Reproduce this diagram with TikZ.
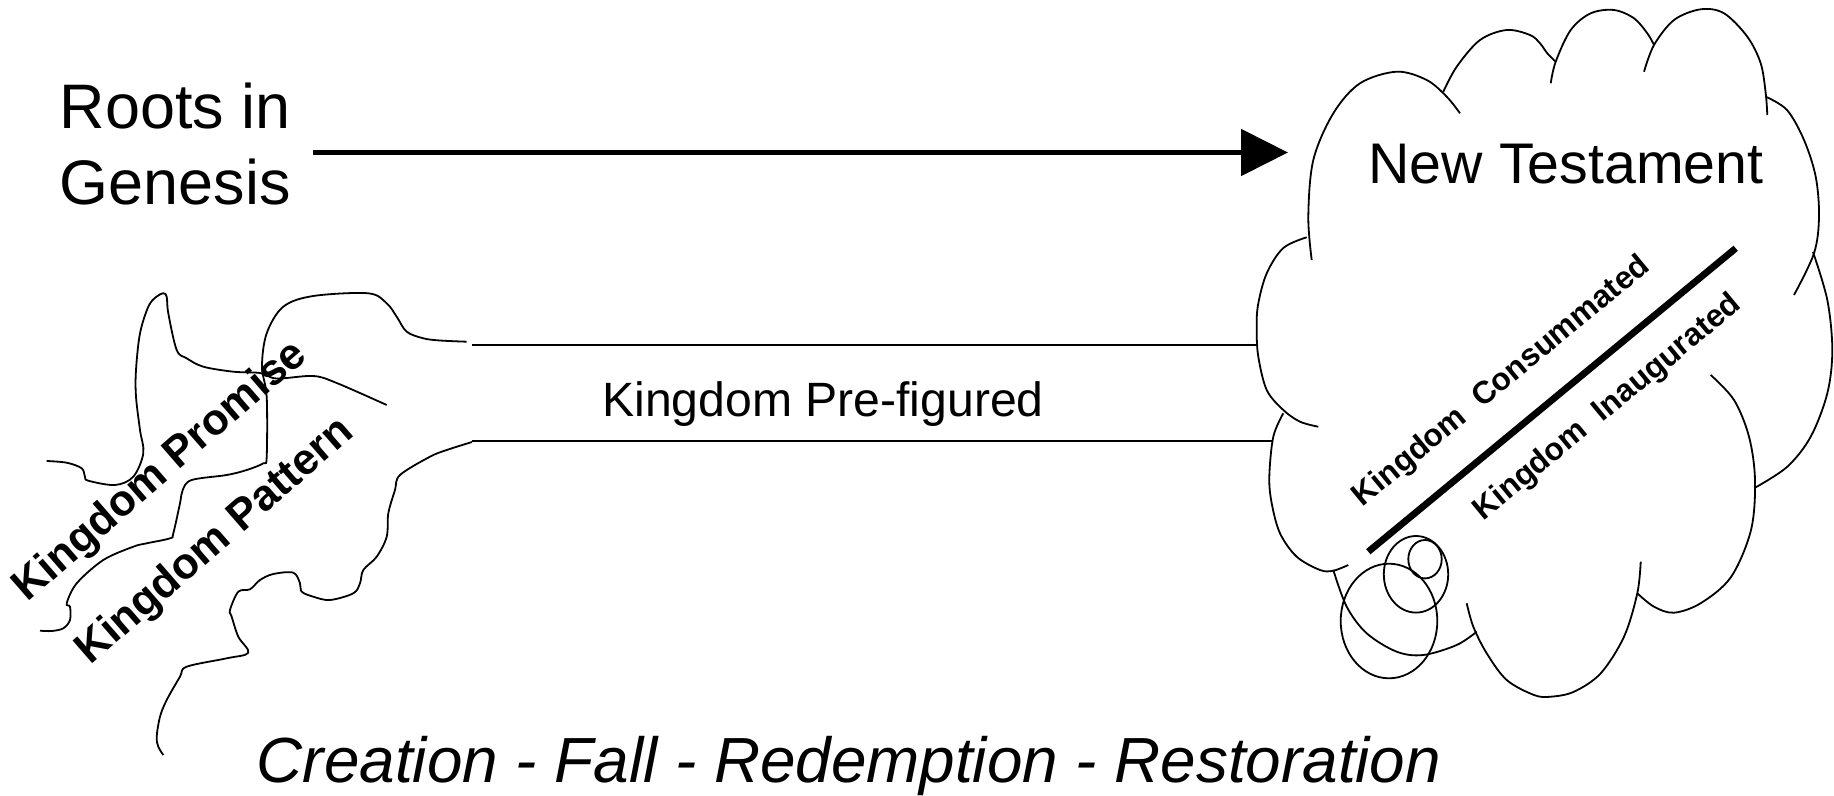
\documentclass[tikz,border=0pt]{standalone}
\usepackage{fontspec}
\setmainfont{Liberation Sans}
\usetikzlibrary{arrows.meta}

\begin{document}
\begin{tikzpicture}[x = {0.1mm}, y = {-0.1mm}, line width = 0.18mm,
    big/.style = {inner sep = 0pt, font = \fontsize{17.9}{21.8}\selectfont},
    title/.style = {inner sep = 0pt, font = \fontsize{16.3}{19}\selectfont},
    label/.style = {inner sep = 0pt, font = \fontsize{13.7}{16}\selectfont},
    rootlabel/.style = {inner sep = 0pt, rotate = 41, font = \fontsize{12.4}{14}\selectfont\bfseries},
    cloudlabel/.style = {inner sep = 0pt, rotate = 39.5, font = \fontsize{9}{10}\selectfont\bfseries},
    bigarrow/.style = {line width = 0.53mm, -{Triangle[length = 4.7mm, width = 4.6mm]}}]
    \useasboundingbox (0, 0) rectangle (1834, 796);

    \node[big, anchor = north west, align = left](roots) at (59, 81.7) {Roots in\\Genesis};
    \node[title, anchor = base](newtest) at (1566, 183.3) {New Testament};
    \node[label, anchor = base](prefig) at (823, 416) {Kingdom Pre-figured};
    \node[big, anchor = base, font = \fontsize{18.15}{22}\selectfont\itshape](creation) at (849, 782) {Creation - Fall - Redemption - Restoration};

    \node[rootlabel](promise) at (160.7, 472) {Kingdom Promise};
    \node[rootlabel](pattern) at (215.8, 542) {Kingdom Pattern};
    \node[cloudlabel](consum) at (1502, 382) {Kingdom\ \ Consummated};
    \node[cloudlabel](inaug) at (1608, 408) {Kingdom\ \ Inaugurated};

    \coordinate (tip) at (1288, 152.5);
    \draw[bigarrow, shorten <= 2.1mm](roots.east |- tip) -- (tip);

    \draw plot[smooth, tension = 0.55] coordinates {(46.7, 461) (66.7, 462.7) (81.7, 468.3) (85, 476.7) (88.3, 480.7) (115, 485) (133.3, 476.7) (143.3, 453.3) (140, 430) (136, 396.7) (136, 370) (140, 333.3) (148.3, 306.7) (156, 297) (163.3, 293.3) (166.7, 296.7) (168.3, 313.3) (176.7, 350) (186.7, 358.3) (203.3, 366.7) (233.3, 371.7) (260, 373) (276.7, 378.5) (313.3, 376) (336.7, 383) (386.7, 405)};
    \draw plot[smooth, tension = 0.55] coordinates {(466.7, 341.7) (440, 340.5) (423.3, 338.3) (406.7, 331.7) (396.7, 316.7) (386.7, 303.3) (368.3, 293.3) (313.3, 296) (283.3, 306.7) (266.7, 333.3) (262, 366.7) (266.7, 396.7) (266.7, 456.7) (263.3, 463.3) (246.7, 470) (226.7, 475) (191.7, 480) (182.7, 490) (180, 503.3) (173.3, 533.3) (170, 538.3) (146.7, 543.3) (133.3, 546.7) (103.3, 560) (76.7, 583.3) (66.7, 603.3) (70, 606.7) (70, 620) (63.3, 628.3) (51.7, 631) (40, 630.7)};
    \draw plot[smooth, tension = 0.55] coordinates {(472, 442) (446.7, 450) (430, 456.7) (400, 475) (395, 490) (388.3, 513.3) (386.7, 536.7) (376.7, 556.7) (363.3, 570) (360, 583.3) (353.3, 593.3) (330, 600) (313.3, 596.7) (301.7, 591.7) (300, 583.3) (293.3, 572.7) (273.3, 574) (260, 580) (250, 589.3) (238.3, 591.7) (230, 610) (231.7, 616.7) (238.3, 636.7) (248.3, 652.7) (226.7, 658.3) (186.7, 666.7) (180, 676.7) (166.7, 700) (160, 716.7) (156.7, 736.7) (158.3, 746.7) (163.3, 755)};
    \draw (471.7, 345) -- (1256, 345);
    \draw (472, 441) -- (1271.7, 441);

    \draw plot[smooth, tension = 0.55] coordinates {(1311.7, 260) (1308.3, 216.7) (1313.3, 160) (1333.3, 113.3) (1360, 83.3) (1396.7, 71.7) (1426.7, 80) (1446.7, 96.7) (1460, 113.3)};
    \draw plot[smooth, tension = 0.55] coordinates {(1443.3, 91.7) (1456.7, 66.7) (1480, 40) (1506.7, 30) (1530, 35) (1540, 43.3) (1547.3, 53.3) (1555.7, 61.7)};
    \draw plot[smooth, tension = 0.55] coordinates {(1550.7, 83.3) (1555.7, 61.7) (1570.7, 30) (1590.7, 13.3) (1614, 10) (1634, 18.3) (1647.3, 33.3) (1654, 45)};
    \draw plot[smooth, tension = 0.55] coordinates {(1644, 71.7) (1654, 45) (1674, 20) (1700.7, 9.3) (1724, 13.3) (1747.3, 36.7) (1760.7, 63.3) (1765.7, 93.3) (1767.3, 115)};
    \draw plot[smooth, tension = 0.55] coordinates {(1765.7, 96.7) (1787, 110) (1804, 140) (1815.7, 176.7) (1819, 216.7) (1814, 253.3) (1794, 295)};
    \draw plot[smooth, tension = 0.55] coordinates {(1813, 252) (1827.3, 300) (1832.3, 350) (1827.3, 393.3) (1810.7, 436.7) (1787.3, 466.7) (1755.7, 487.3)};
    \draw plot[smooth, tension = 0.55] coordinates {(1710.7, 375) (1734, 400) (1749, 436.7) (1755, 480) (1751, 530) (1731, 577) (1701, 603) (1674, 612.7) (1654, 606.7) (1637.3, 593.3)};
    \draw plot[smooth, tension = 0.55] coordinates {(1640.7, 561.7) (1637.3, 593.3) (1624, 636.7) (1600.7, 673.3) (1574, 691.7) (1550.7, 696.7) (1534, 695) (1506.7, 680) (1486.7, 653.3) (1473.3, 626.7) (1466.7, 603.3)};
    \draw plot[smooth, tension = 0.55] coordinates {(1476.7, 631.7) (1456.7, 645) (1423.3, 655) (1396.7, 651.7) (1366.7, 633.3) (1346.7, 606.7) (1333.3, 570)};
    \draw plot[smooth, tension = 0.55] coordinates {(1348.3, 565) (1333.3, 570.7) (1320, 570) (1296.7, 556.7) (1280, 533.3) (1271.7, 503.3) (1269.3, 476.7) (1273.3, 436.7) (1283.3, 413.3)};
    \draw plot[smooth, tension = 0.55] coordinates {(1306.7, 237.3) (1283.3, 248) (1266.7, 273.3) (1258, 305) (1256.7, 330) (1258.3, 356.7) (1266.7, 390) (1283.3, 410) (1300, 421.7) (1318.3, 426.7)};

    \draw[line width = 0.68mm] (1368.3, 551.7) -- (1735.7, 248.3);

    \draw (1389, 621) ellipse [x radius = 4.83mm, y radius = 5.73mm];
    \draw (1416, 574.3) ellipse [x radius = 3.22mm, y radius = 3.83mm];
    \draw (1425, 559.2) ellipse [x radius = 1.67mm, y radius = 1.92mm];
\end{tikzpicture}
\end{document}
